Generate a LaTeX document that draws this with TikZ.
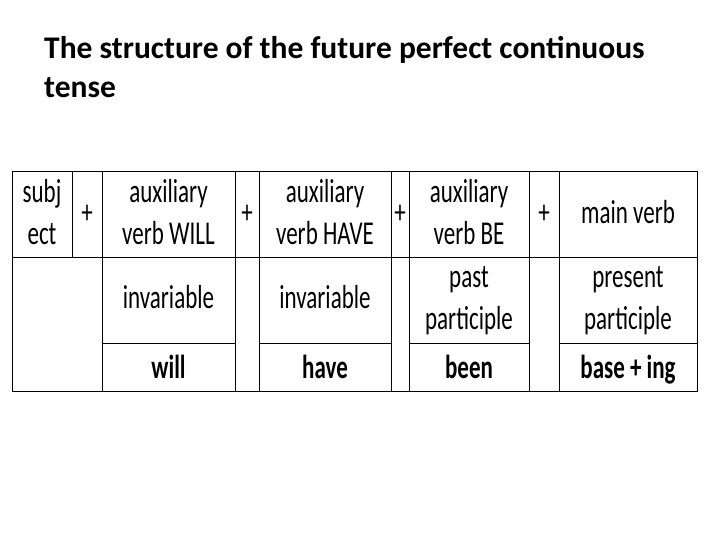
\documentclass[tikz,border=0pt]{standalone}
\usepackage{fontspec}
\setmainfont{Carlito}
\newcommand{\vs}[1]{\scalebox{1}[1.45]{\begin{tabular}{@{}c@{}}#1\end{tabular}}}
\begin{document}
\begin{tikzpicture}[x=1pt,y=-1pt,
  t/.style={font=\fontsize{23}{29}\selectfont,align=center,inner sep=0pt},
  b/.style={t,font=\fontsize{23}{29}\selectfont\bfseries},
  g/.style={line width=1pt}]
\useasboundingbox (0,0) rectangle (720,540);
\node[anchor=west,align=left,font=\fontsize{31.5}{39}\selectfont\bfseries,inner sep=0pt] (title) at (44,67) {The structure of the future perfect continuous\\tense};
\draw[g] (12,172) rectangle (697,391);
\draw[g] (12,257.6) -- (697,257.6);
\foreach \x in {102,235,259,391,409,529,559} \draw[g] (\x,172) -- (\x,391);
\draw[g] (72,172) -- (72,257.6);
\foreach \a/\c in {102/235,259/391,409/529,559/697} \draw[g] (\a,343) -- (\c,343);
\node[t] (s) at (42,215) {\vs{subj\\ect}};
\node[t] (p1) at (87,215) {\vs{+}};
\node[t] (w) at (168.5,215) {\vs{auxiliary\\verb WILL}};
\node[t] (p2) at (247,215) {\vs{+}};
\node[t] (h) at (325,215) {\vs{auxiliary\\verb HAVE}};
\node[t] (p3) at (400,215) {\vs{+}};
\node[t] (be) at (469,215) {\vs{auxiliary\\verb BE}};
\node[t] (p4) at (544,215) {\vs{+}};
\node[t] (m) at (628,215) {\vs{main verb}};
\node[t] (i1) at (168.5,300) {\vs{invariable}};
\node[t] (i2) at (325,300) {\vs{invariable}};
\node[t] (pp) at (469,300) {\vs{past\\participle}};
\node[t] (pr) at (628,300) {\vs{present\\participle}};
\node[b] (wl) at (168.5,370) {\vs{\strut will}};
\node[b] (hv) at (325,370) {\vs{\strut have}};
\node[b] (bn) at (469,370) {\vs{\strut been}};
\node[b] (bi) at (628,370) {\vs{\strut base + ing}};
\end{tikzpicture}
\end{document}
